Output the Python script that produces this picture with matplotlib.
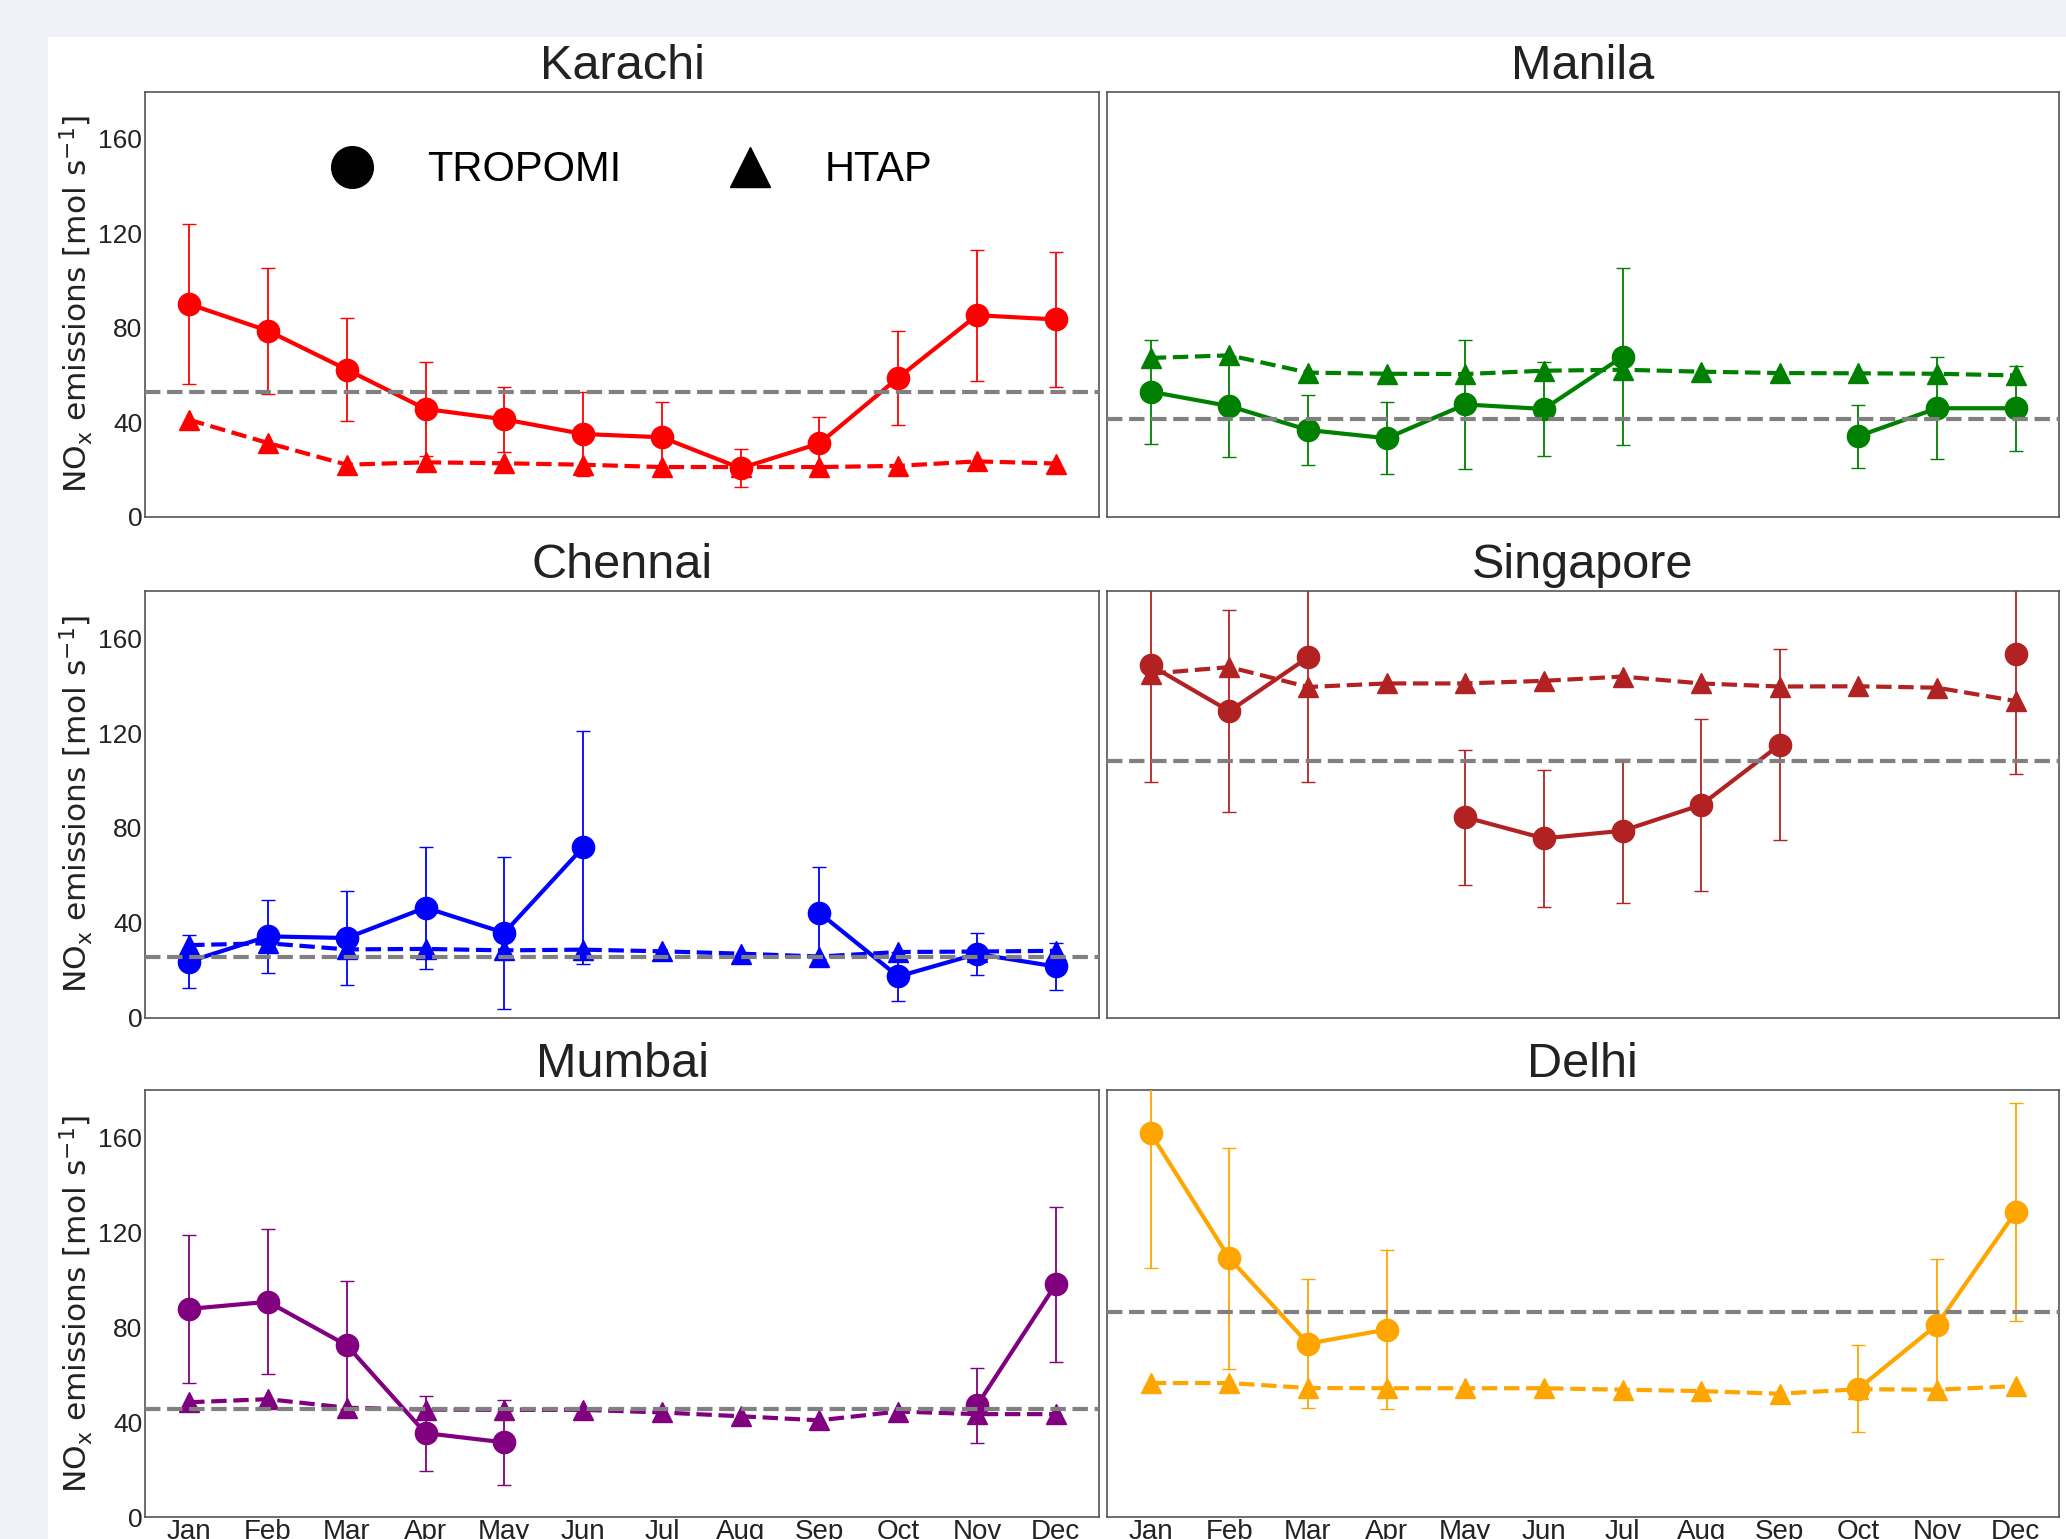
import numpy as np
import matplotlib
matplotlib.use('Agg')
import matplotlib.pyplot as plt
from matplotlib.lines import Line2D
from matplotlib.patches import Rectangle

nan = np.nan

months = ['Jan', 'Feb', 'Mar', 'Apr', 'May', 'Jun', 'Jul', 'Aug', 'Sep', 'Oct', 'Nov', 'Dec']
cities = ['Karachi', 'Manila', 'Chennai', 'Singapore', 'Mumbai', 'Delhi']
colors = ['red', 'green', 'blue', 'firebrick', 'purple', 'orange']

# TROPOMI monthly emissions and their uncertainty [mol/s]
karachi_tropomi = [90.0, 78.7, 62.3, 45.6, 41.2, 35.0, 33.6, 20.5, 31.0, 58.8, 85.3, 83.5]
karachi_err = [34.0, 26.7, 21.7, 20.0, 13.7, 17.6, 15.0, 8.0, 11.0, 20.0, 27.7, 28.5]
manila_tropomi = [52.9, 46.8, 36.7, 33.2, 47.5, 45.6, 67.7, nan, nan, 34.1, 45.9, 45.9]
manila_err = [22.0, 21.4, 15.0, 15.3, 27.5, 20.0, 37.5, nan, nan, 13.3, 21.5, 18.0]
chennai_tropomi = [23.7, 34.3, 33.6, 46.4, 35.8, 71.8, nan, nan, 44.2, 17.4, 26.9, 21.6]
chennai_err = [11.0, 15.5, 19.8, 25.7, 32.0, 49.0, nan, nan, 19.5, 10.2, 9.0, 9.8]
singapore_tropomi = [148.5, 129.2, 151.9, nan, 84.5, 75.6, 78.8, 89.7, 115.1, nan, nan, 153.4]
singapore_err = [49.2, 42.5, 52.6, nan, 28.5, 28.8, 30.3, 36.3, 40.3, nan, nan, 50.6]
mumbai_tropomi = [87.8, 90.8, 72.5, 35.5, 31.6, nan, nan, nan, nan, nan, 47.2, 98.1]
mumbai_err = [31.0, 30.5, 27.0, 15.8, 18.0, nan, nan, nan, nan, nan, 15.8, 32.6]
delhi_tropomi = [161.7, 109.1, 73.2, 79.1, nan, nan, nan, nan, nan, 54.2, 81.2, 128.6]
delhi_err = [56.5, 46.5, 27.0, 33.6, nan, nan, nan, nan, nan, 18.3, 27.7, 45.8]

# HTAP inventory
karachi_htap = [41.0, 31.2, 22.0, 23.0, 22.6, 22.0, 21.0, 21.0, 21.0, 21.5, 23.4, 22.5]
manila_htap = [67.2, 68.3, 61.0, 60.5, 60.4, 61.8, 62.2, 61.4, 60.8, 60.7, 60.5, 59.8]
chennai_htap = [30.6, 31.4, 28.8, 29.0, 28.4, 28.7, 28.0, 27.0, 25.8, 27.7, 27.9, 28.2]
singapore_htap = [145.0, 147.8, 139.4, 140.9, 140.9, 142.0, 143.8, 140.9, 139.6, 139.7, 139.1, 133.5]
mumbai_htap = [48.5, 49.8, 46.2, 45.4, 45.3, 45.3, 44.2, 42.6, 40.9, 44.6, 43.5, 43.5]
delhi_htap = [56.6, 56.6, 54.5, 54.4, 54.4, 54.4, 53.8, 53.2, 52.1, 54.0, 53.8, 55.3]

# annual mean (grey dashed line)
annual_mean = [52.6, 41.3, 25.8, 108.0, 45.8, 86.6]

tropomi = [karachi_tropomi, manila_tropomi, chennai_tropomi, singapore_tropomi, mumbai_tropomi, delhi_tropomi]
errors = [karachi_err, manila_err, chennai_err, singapore_err, mumbai_err, delhi_err]
htap = [karachi_htap, manila_htap, chennai_htap, singapore_htap, mumbai_htap, delhi_htap]

tick_font = 'Liberation Sans'

fig = plt.figure(figsize=(20.66, 15.39), dpi=100, facecolor='#eff3f9')
fig.patches.append(Rectangle((0.0232, 0), 1, 0.976, transform=fig.transFigure,
                             facecolor='white', edgecolor='none', zorder=-1))

lefts = [0.0702, 0.5357]
widths = [0.4618, 0.4609]
bottoms = [0.6643, 0.3387, 0.0140]
heights = [0.2762, 0.2775, 0.2778]

x = np.arange(12)
for i, city in enumerate(cities):
    row, col = i // 2, i % 2
    ax = fig.add_axes([lefts[col], bottoms[row], widths[col], heights[row]])
    c = colors[i]

    ax.plot(x, htap[i], '--', color=c, lw=3, marker='^', ms=14, zorder=2)
    ax.errorbar(x, tropomi[i], yerr=errors[i], fmt='-o', color=c, lw=3, ms=16,
                elinewidth=1.3, capsize=5, capthick=1.0, zorder=3)
    ax.axhline(annual_mean[i], color='grey', ls='--', lw=3, zorder=4)

    ax.set_xlim(-0.56, 11.55)
    ax.set_ylim(0, 180)
    ax.set_title(city, fontsize=35, family=tick_font, pad=9, color='#222222')
    ax.set_xticks(x)
    ax.set_yticks([0, 40, 80, 120, 160])
    ax.tick_params(length=0, pad=2, labelsize=19, labelcolor='#222222')
    for lab in ax.get_xticklabels() + ax.get_yticklabels():
        lab.set_family(tick_font)
    if row == 2:
        ax.set_xticklabels(months)
        ax.tick_params(axis='x', pad=1, labelsize=20)
    else:
        ax.set_xticklabels([])
    if col == 0:
        ax.set_ylabel(r'NO$_\mathrm{x}$ emissions [mol s$^{-1}$]', fontsize=22.5, color='#222222')
        ax.yaxis.set_label_coords(-0.052, 0.5)
    else:
        ax.set_yticklabels([])
    for sp in ax.spines.values():
        sp.set_color('#555555')
        sp.set_linewidth(1.2)

    if i == 0:
        handles = [Line2D([], [], ls='none', marker='o', ms=30, color='black'),
                   Line2D([], [], ls='none', marker='^', ms=29, color='black')]
        ax.legend(handles, ['TROPOMI', 'HTAP'], ncol=2, frameon=False,
                  loc='center left', bbox_to_anchor=(0.173, 0.815),
                  borderaxespad=0, borderpad=0, handlelength=2,
                  handletextpad=0.8, columnspacing=2.1,
                  prop={'family': tick_font, 'size': 30})

plt.savefig('out.png', dpi=100)
